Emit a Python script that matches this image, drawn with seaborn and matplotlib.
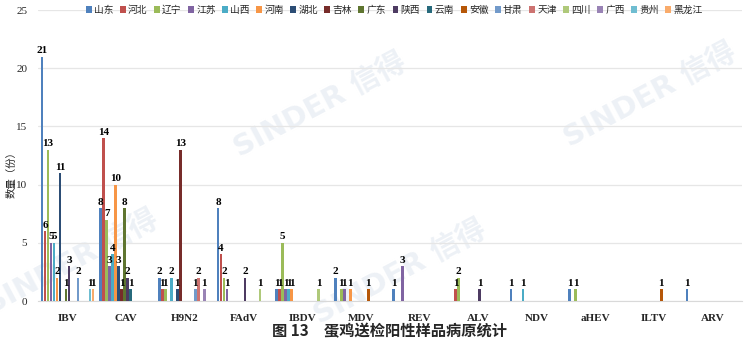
import matplotlib
matplotlib.use("Agg")
import matplotlib.pyplot as plt
import seaborn as sns
import pandas as pd

categories = ["IBV", "CAV", "H9N2", "FAdV", "IBDV", "MDV", "REV", "ALV", "NDV", "aHEV", "ILTV", "ARV"]
provinces = ["山东", "河北", "辽宁", "江苏", "山西", "河南", "湖北", "吉林", "广东",
             "陕西", "云南", "安徽", "甘肃", "天津", "四川", "广西", "贵州", "黑龙江"]

shandong     = [21, 8, 2, 8, 1, 2, 1, 0, 1, 1, 0, 1]
hebei        = [6, 14, 1, 4, 1, 0, 0, 1, 0, 0, 0, 0]
liaoning     = [13, 7, 1, 2, 5, 1, 0, 2, 0, 1, 0, 0]
jiangsu      = [5, 3, 0, 1, 1, 1, 3, 0, 0, 0, 0, 0]
shanxi       = [5, 4, 2, 0, 1, 0, 0, 0, 1, 0, 0, 0]
henan        = [2, 10, 0, 0, 1, 1, 0, 0, 0, 0, 0, 0]
hubei        = [11, 3, 1, 0, 0, 0, 0, 0, 0, 0, 0, 0]
jilin        = [0, 1, 13, 0, 0, 0, 0, 0, 0, 0, 0, 0]
guangdong    = [1, 8, 0, 0, 0, 0, 0, 0, 0, 0, 0, 0]
shaanxi      = [3, 2, 0, 2, 0, 0, 0, 1, 0, 0, 0, 0]
yunnan       = [0, 1, 0, 0, 0, 0, 0, 0, 0, 0, 0, 0]
anhui        = [0, 0, 0, 0, 0, 1, 0, 0, 0, 0, 1, 0]
gansu        = [2, 0, 1, 0, 0, 0, 0, 0, 0, 0, 0, 0]
tianjin      = [0, 0, 2, 0, 0, 0, 0, 0, 0, 0, 0, 0]
sichuan      = [0, 0, 0, 1, 1, 0, 0, 0, 0, 0, 0, 0]
guangxi      = [0, 0, 1, 0, 0, 0, 0, 0, 0, 0, 0, 0]
guizhou      = [1, 0, 0, 0, 0, 0, 0, 0, 0, 0, 0, 0]
heilongjiang = [1, 0, 0, 0, 0, 0, 0, 0, 0, 0, 0, 0]

series = [shandong, hebei, liaoning, jiangsu, shanxi, henan, hubei, jilin, guangdong,
          shaanxi, yunnan, anhui, gansu, tianjin, sichuan, guangxi, guizhou, heilongjiang]

colors = ["#4F81BD", "#C0504D", "#9BBB59", "#8064A2", "#4BACC6", "#F79646",
          "#2C4D75", "#772C2A", "#5F7530", "#4D3B62", "#276A7C", "#B65708",
          "#729ACA", "#CD7371", "#AFC97A", "#9983B5", "#6FBDD1", "#F9AB6B"]

rows = []
for p, vals in zip(provinces, series):
    for c, v in zip(categories, vals):
        rows.append({"category": c, "province": p, "value": v})
df = pd.DataFrame(rows)

sns.set_style("white")
plt.rcParams['font.family'] = ['Liberation Serif', 'Noto Sans CJK SC', 'DejaVu Sans']

fig = plt.figure(figsize=(7.5, 3.45), dpi=100)
ax = fig.add_axes([0.051, 0.1275, 0.938, 0.8435])

sns.barplot(data=df, x="category", y="value", hue="province", order=categories,
            hue_order=provinces, palette=colors, width=0.92, gap=0.1,
            ax=ax, saturation=1, errorbar=None, zorder=3, linewidth=0)

# watermarks (behind the bars)
wm_color = "#edf1f6"
for (x, y) in [(650, 95), (320, 105), (400, 272), (72, 262)]:
    ax.text(x / 750, 1 - y / 345, "SINDER 信得", rotation=28, fontsize=21,
            fontweight="bold", color=wm_color, ha="center", va="center",
            family=["DejaVu Sans", "Noto Sans CJK SC"], zorder=0.5,
            transform=fig.transFigure, clip_on=False)

for cont in ax.containers:
    labels = [f"{int(v)}" if v > 0 else "" for v in cont.datavalues]
    ax.bar_label(cont, labels=labels, fontsize=8, fontweight="bold",
                 padding=1, color="black")

ax.set_ylim(0, 25)
ax.set_yticks([0, 5, 10, 15, 20, 25])
ax.yaxis.grid(True, color="#e6e6e6", linewidth=0.9, zorder=0)
ax.set_axisbelow(True)
for s in ["top", "right", "left"]:
    ax.spines[s].set_visible(False)
ax.spines["bottom"].set_color("#d9d9d9")
ax.tick_params(axis="both", length=0, labelsize=8)
ax.tick_params(axis="x", pad=9)
ax.tick_params(axis="y", pad=8)
for t in ax.get_xticklabels():
    t.set_fontweight("bold")
ax.set_xlabel("")
ax.set_ylabel("")
fig.text(0.016, 0.5, "数量（份）", rotation=90, fontsize=7.5, ha="center", va="center",
         family=["Noto Sans CJK SC"])

handles, labels = ax.get_legend_handles_labels()
ax.legend(handles, labels, ncol=18, loc="center", bbox_to_anchor=(0.506, 1.0),
          frameon=False, handlelength=0.6, handleheight=0.6, handletextpad=0.25,
          columnspacing=0.65, borderaxespad=0,
          prop={"family": ["Noto Sans CJK SC"], "size": 7})

fig.text(0.52, 0.04, "图 13　蛋鸡送检阳性样品病原统计", fontsize=11, ha="center",
         va="center", fontweight="bold", family=["Noto Sans CJK SC"])

fig.savefig("out.png", dpi=100)
